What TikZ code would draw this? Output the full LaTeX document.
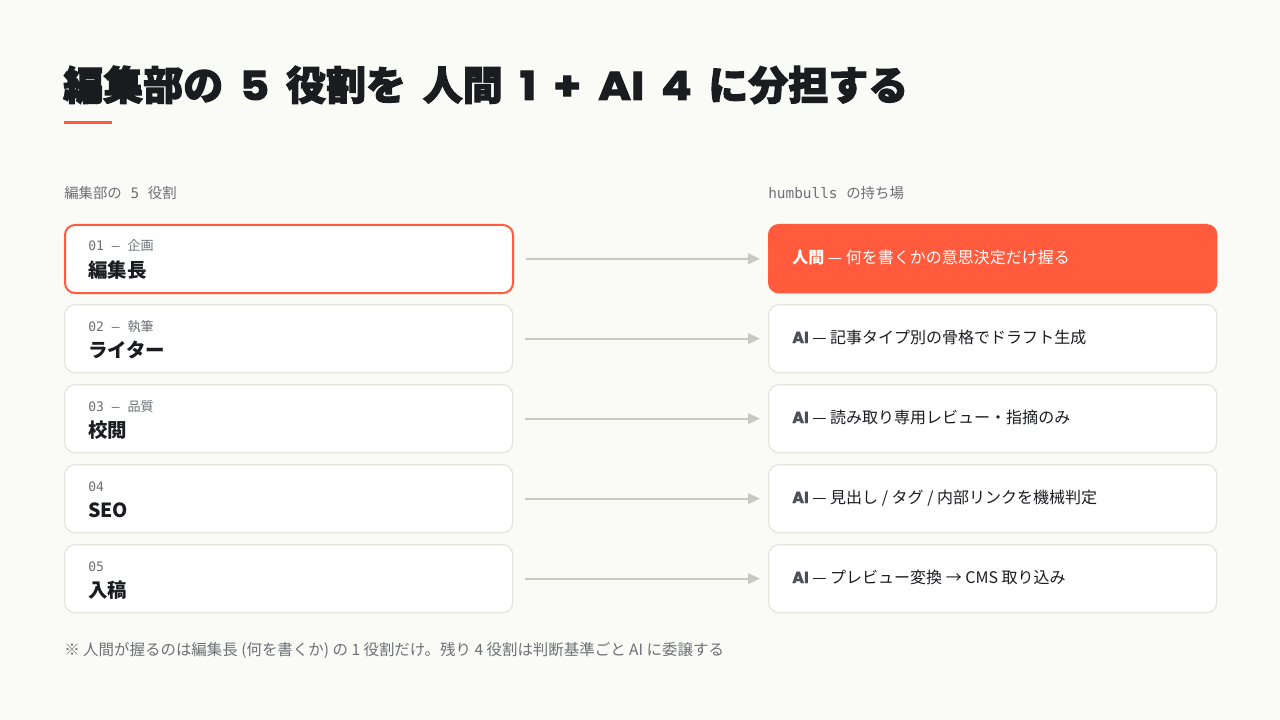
\documentclass[tikz,border=0pt]{standalone}
\usepackage{fontspec}
\setmainfont{Noto Sans CJK JP}
\setmonofont{DejaVu Sans Mono}
\newfontfamily\heavyjp{Noto Sans CJK JP}[BoldFeatures={FakeBold=2.5}]
\newfontfamily\heavylat{Poppins}[BoldFeatures={FakeBold=2.5,FakeStretch=1.12}]
\newfontfamily\latbold{Poppins}[BoldFeatures={FakeBold=1.2}]
\usetikzlibrary{arrows.meta,positioning}
\definecolor{paper}{HTML}{FAFAF7}
\definecolor{accent}{HTML}{FF5B3C}
\definecolor{ink}{HTML}{1B1C20}
\definecolor{muted}{HTML}{6E7075}
\definecolor{edge}{HTML}{E6E6E0}
\definecolor{wire}{HTML}{C9C9C0}
\definecolor{aigray}{HTML}{4B4F5A}
\newcommand{\aimark}{{\latbold\bfseries\color{aigray}AI}}
\newcommand{\lat}[1]{{\heavylat\bfseries #1}}
\newcommand{\gap}{\hspace{12.6pt}}

\tikzset{
  card/.style={draw=edge, line width=1pt, fill=white, rounded corners=7.5pt,
    minimum width=336pt, minimum height=51pt, anchor=north west, inner sep=0pt},
  hot/.style={card, draw=accent, line width=1.5pt},
  lead/.style={card, draw=accent, fill=accent},
  tag/.style={anchor=base west, inner sep=0pt, font=\fontsize{9.8}{11}\selectfont, text=muted},
  role/.style={anchor=base west, inner sep=0pt, font=\bfseries\fontsize{14.6}{17}\selectfont, text=ink},
  duty/.style={anchor=base west, inner sep=0pt, font=\fontsize{12}{13}\selectfont, text=ink},
  flow/.style={draw=wire, line width=1.5pt, -{Triangle[length=9pt,width=8pt]},
    shorten <=9pt, shorten >=6pt}
}

\begin{document}
\begin{tikzpicture}[x=0.75pt,y=-0.75pt]
\useasboundingbox[fill=paper] (0,0) rectangle (1280,720);

% title
\node[anchor=base west, inner sep=0pt, text=ink, font=\heavyjp\bfseries\fontsize{30}{34}\selectfont] (title) at (63,100)
  {編集部の\gap{}\lat{5}\gap{}役割を\gap{}人間\gap{}\lat{1}\gap{}\lat{+}\gap{}\lat{AI}\gap{}\lat{4}\gap{}に分担する};
\draw[accent, line width=2.25pt] (64,123) -- (112,123);

% column heads
\node[anchor=base west, inner sep=0pt, text=muted, font=\fontsize{10.8}{12}\selectfont] (lefthead) at (64,199)
  {編集部の\texttt{ 5 }役割};
\node[anchor=base west, inner sep=0pt, text=muted, font=\fontsize{10.8}{12}\selectfont] (righthead) at (768,199)
  {\texttt{humbulls }の持ち場};

% roles
\node[hot] (r1) at (64,224) {};
\node[card] (r2) at (64,304) {};
\node[card] (r3) at (64,384) {};
\node[card] (r4) at (64,464) {};
\node[card] (r5) at (64,544) {};
\node[tag] (t1) at (88,251) {\texttt{01 – }企画};
\node[role] (n1) at (88,277) {編集長};
\node[tag] (t2) at (88,331) {\texttt{02 – }執筆};
\node[role] (n2) at (88,357) {ライター};
\node[tag] (t3) at (88,411) {\texttt{03 – }品質};
\node[role] (n3) at (88,437) {校閲};
\node[tag] (t4) at (88,491) {\texttt{04}};
\node[role] (n4) at (88,517) {SEO};
\node[tag] (t5) at (88,571) {\texttt{05}};
\node[role] (n5) at (88,597) {入稿};

% owners
\node[lead] (h1) at (768,224) {};
\node[card] (h2) at (768,304) {};
\node[card] (h3) at (768,384) {};
\node[card] (h4) at (768,464) {};
\node[card] (h5) at (768,544) {};
\node[duty, text=white] (d1) at (792,263) {{\bfseries 人間} — 何を書くかの意思決定だけ握る};
\node[duty] (d2) at (792,343) {\aimark{} — 記事タイプ別の骨格でドラフト生成};
\node[duty] (d3) at (792,423) {\aimark{} — 読み取り専用レビュー・指摘のみ};
\node[duty] (d4) at (792,503) {\aimark{} — 見出し / タグ / 内部リンクを機械判定};
\node[duty] (d5) at (792,583) {\aimark{} — プレビュー変換 → CMS 取り込み};

\draw[flow] (r1) -- (h1);
\draw[flow] (r2) -- (h2);
\draw[flow] (r3) -- (h3);
\draw[flow] (r4) -- (h4);
\draw[flow] (r5) -- (h5);

% note
\node[anchor=base west, inner sep=0pt, text=muted, font=\fontsize{11.6}{13}\selectfont] (note) at (64,655)
  {※ 人間が握るのは編集長 (何を書くか) の 1 役割だけ。残り 4 役割は判断基準ごと AI に委譲する};
\end{tikzpicture}
\end{document}
